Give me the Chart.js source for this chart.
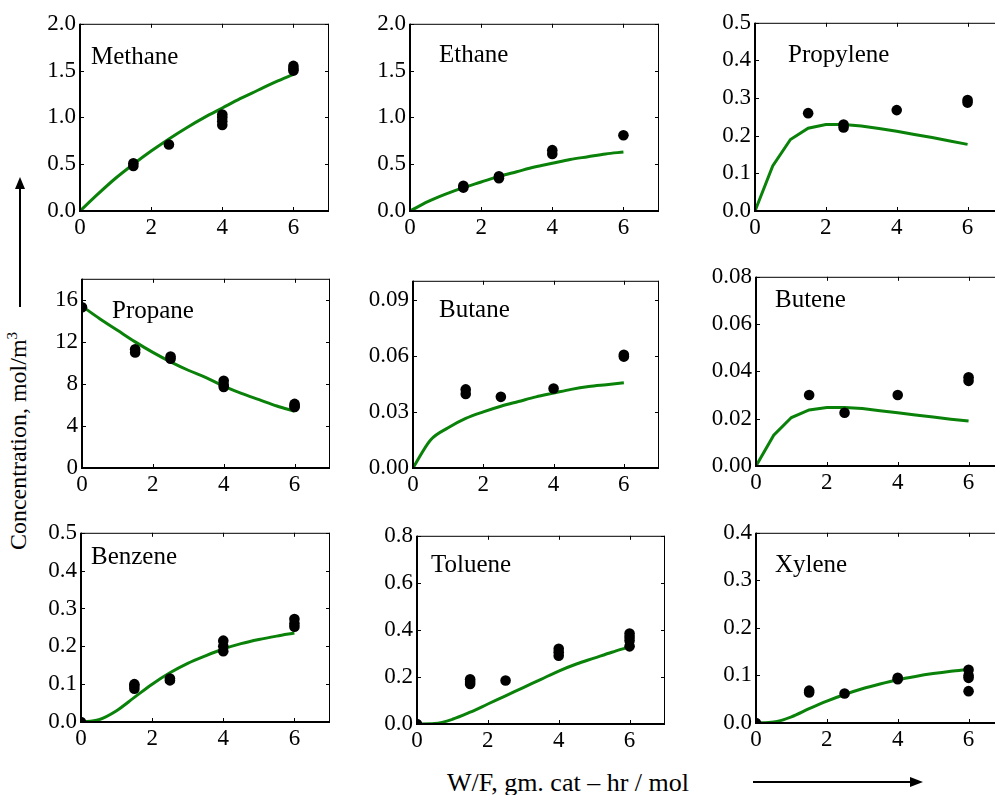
<!DOCTYPE html>
<html>
<head>
<meta charset="utf-8">
<script src="https://cdn.jsdelivr.net/npm/chart.js@4.4.0/dist/chart.umd.min.js"></script>
<style>
  html, body { margin: 0; padding: 0; background: #fff; overflow: hidden; }
  body { width: 995px; height: 795px; position: relative; font-family: "Liberation Serif", serif; }
  canvas { position: absolute; }
  .ylab { position: absolute; left: 18px; top: 441px; font-size: 24px; white-space: nowrap;
          transform: translate(-50%, -50%) rotate(-90deg); }
  .xlab { position: absolute; left: 447px; top: 770px; font-size: 26px; line-height: 1; white-space: nowrap; }
  svg { position: absolute; left: 0; top: 0; }
</style>
</head>
<body>
<div class="ylab">Concentration, mol/m<sup style="font-size:15px">3</sup></div>
<div class="xlab">W/F, gm. cat – hr / mol</div>
<svg width="995" height="795">
  <line x1="20" y1="307" x2="20" y2="186" stroke="#000" stroke-width="2"/>
  <polygon points="20,177 15,189 25,189" fill="#000"/>
  <line x1="753" y1="782" x2="912" y2="782" stroke="#000" stroke-width="2"/>
  <polygon points="923,782 910,777 910,787" fill="#000"/>
</svg>

<script>
// model curve x values (W/F)
const wf = [0, 0.5, 1, 1.5, 2, 2.5, 3, 3.5, 4, 4.5, 5, 5.5, 6]

// model curves
const methaneModel = [0, 0.18, 0.35, 0.5, 0.64, 0.77, 0.89, 1.0, 1.1, 1.2, 1.29, 1.38, 1.46]
const ethaneModel = [0, 0.1, 0.18, 0.25, 0.31, 0.37, 0.42, 0.47, 0.51, 0.55, 0.58, 0.61, 0.63]
const propyleneModel = [0, 0.12, 0.19, 0.22, 0.23, 0.23, 0.226, 0.219, 0.212, 0.203, 0.195, 0.186, 0.177]
const propaneModel = [15.4, 14.2, 13.1, 12.0, 11.0, 10.1, 9.3, 8.6, 7.8, 7.1, 6.5, 5.9, 5.4]
const butaneModel = [0, 0.015, 0.0215, 0.0265, 0.030, 0.033, 0.0355, 0.038, 0.040, 0.042, 0.0435, 0.0445, 0.0455]
const buteneModel = [0, 0.013, 0.0205, 0.0237, 0.0247, 0.0247, 0.0243, 0.0234, 0.0225, 0.0216, 0.0207, 0.0198, 0.019]
const benzeneModel = [0, 0.006, 0.03, 0.065, 0.1, 0.13, 0.155, 0.175, 0.193, 0.207, 0.218, 0.227, 0.235]
const tolueneModel = [0, 0.002, 0.02, 0.05, 0.085, 0.12, 0.155, 0.19, 0.225, 0.255, 0.28, 0.305, 0.328]
const xyleneModel = [0, 0.002, 0.013, 0.03, 0.046, 0.06, 0.072, 0.082, 0.091, 0.098, 0.104, 0.109, 0.113]

// experimental points
const methaneExpX = [1.5, 1.5, 2.5, 4, 4, 4, 4, 6, 6, 6]
const methaneExpY = [0.48, 0.51, 0.71, 1.03, 1.0, 0.96, 0.92, 1.55, 1.52, 1.5]
const ethaneExpX = [1.5, 1.5, 2.5, 2.5, 4, 4, 6]
const ethaneExpY = [0.27, 0.25, 0.37, 0.35, 0.65, 0.61, 0.81]
const propyleneExpX = [1.5, 2.5, 2.5, 4, 6, 6]
const propyleneExpY = [0.26, 0.23, 0.222, 0.268, 0.295, 0.288]
const propaneExpX = [0, 1.5, 1.5, 2.5, 2.5, 4, 4, 4, 6, 6, 6]
const propaneExpY = [15.3, 11.3, 11.0, 10.6, 10.4, 8.3, 7.9, 7.7, 6.1, 5.9, 5.8]
const butaneExpX = [1.5, 1.5, 2.5, 4, 6, 6]
const butaneExpY = [0.042, 0.0395, 0.038, 0.0425, 0.0605, 0.0595]
const buteneExpX = [1.5, 2.5, 4, 6, 6]
const buteneExpY = [0.030, 0.0225, 0.030, 0.0375, 0.036]
const benzeneExpX = [0, 1.5, 1.5, 1.5, 2.5, 2.5, 4, 4, 4, 6, 6, 6]
const benzeneExpY = [0, 0.1, 0.095, 0.088, 0.115, 0.11, 0.215, 0.2, 0.187, 0.272, 0.26, 0.252]
const tolueneExpX = [0, 1.5, 1.5, 1.5, 2.5, 4, 4, 4, 6, 6, 6, 6]
const tolueneExpY = [0, 0.19, 0.18, 0.17, 0.185, 0.32, 0.305, 0.29, 0.385, 0.37, 0.355, 0.33]
const xyleneExpX = [0, 1.5, 1.5, 2.5, 4, 4, 6, 6, 6, 6]
const xyleneExpY = [0, 0.068, 0.064, 0.062, 0.095, 0.092, 0.112, 0.1, 0.095, 0.067]

// y axes: max, step, decimals
const yMax = [2, 2, 0.5, 18, 0.1, 0.08, 0.5, 0.8, 0.4]
const yStep = [0.5, 0.5, 0.1, 4, 0.03, 0.02, 0.1, 0.2, 0.1]
const yDec = [1, 1, 1, 0, 2, 2, 1, 1, 1]

const names = ["Methane", "Ethane", "Propylene", "Propane", "Butane", "Butene", "Benzene", "Toluene", "Xylene"]
const models = [methaneModel, ethaneModel, propyleneModel, propaneModel, butaneModel, buteneModel, benzeneModel, tolueneModel, xyleneModel]
const expX = [methaneExpX, ethaneExpX, propyleneExpX, propaneExpX, butaneExpX, buteneExpX, benzeneExpX, tolueneExpX, xyleneExpX]
const expY = [methaneExpY, ethaneExpY, propyleneExpY, propaneExpY, butaneExpY, buteneExpY, benzeneExpY, tolueneExpY, xyleneExpY]

// plot boxes on the page [left, top, right, bottom] and label offsets
const boxes = [
  [80, 21, 329, 211], [410, 21, 659, 211], [755, 20, 1003, 211],
  [82, 276, 330, 468], [413, 278, 659, 468], [756, 274, 1004, 466],
  [81, 530, 330, 722], [417, 533, 665, 724], [756, 530, 1004, 723],
]
const labelPos = [[11, 40], [29, 38], [33, 39], [30, 39], [26, 36], [19, 30], [10, 31], [14, 36], [19, 39]]

const PAD_L = 70, PAD_T = 15, PAD_R = 15, PAD_B = 40

Chart.defaults.font.family = "'Liberation Serif', serif"
Chart.defaults.color = "#000"

// frame with inward ticks on all four sides + species name
const framePlugin = {
  id: "frame",
  afterDraw(chart, args, opts) {
    const { ctx, chartArea: a, scales } = chart
    const sx = scales.x, sy = scales.y
    ctx.save()
    ctx.strokeStyle = "#000"
    ctx.lineWidth = 1
    ctx.beginPath()
    ctx.moveTo(a.left, a.top + 0.5); ctx.lineTo(a.right, a.top + 0.5)
    ctx.moveTo(a.right - 0.5, a.top); ctx.lineTo(a.right - 0.5, a.bottom)
    sx.ticks.forEach((t) => {
      const px = Math.round(sx.getPixelForValue(t.value)) + 0.5
      ctx.moveTo(px, a.bottom); ctx.lineTo(px, a.bottom - 4)
      ctx.moveTo(px, a.top); ctx.lineTo(px, a.top + 4)
    })
    sy.ticks.forEach((t) => {
      const py = Math.round(sy.getPixelForValue(t.value)) + 0.5
      ctx.moveTo(a.left, py); ctx.lineTo(a.left + 4, py)
      ctx.moveTo(a.right, py); ctx.lineTo(a.right - 4, py)
    })
    ctx.stroke()
    ctx.lineWidth = 2
    ctx.beginPath()
    ctx.moveTo(a.left, a.top); ctx.lineTo(a.left, a.bottom); ctx.lineTo(a.right, a.bottom)
    ctx.stroke()
    ctx.font = "25px 'Liberation Serif'"
    ctx.fillStyle = "#000"
    ctx.textBaseline = "alphabetic"
    ctx.fillText(opts.title, a.left + opts.dx, a.top + opts.dy)
    ctx.restore()
  },
}

for (let i = 0; i < 9; i++) {
  const [l, t, r, b] = boxes[i]
  const cv = document.createElement("canvas")
  const w = r - l + PAD_L + PAD_R
  const h = b - t + PAD_T + PAD_B
  cv.width = w
  cv.height = h
  cv.style.left = l - PAD_L + "px"
  cv.style.top = t - PAD_T + "px"
  document.body.appendChild(cv)

  const pts = expX[i].map((x, k) => ({ x: x, y: expY[i][k] }))
  const line = wf.map((x, k) => ({ x: x, y: models[i][k] }))
  const sharp = names[i] === "Propylene" || names[i] === "Butene"

  new Chart(cv, {
    type: "scatter",
    data: {
      datasets: [
        {
          data: pts,
          pointRadius: 5.3,
          pointBackgroundColor: "#000",
          pointBorderWidth: 0,
        },
        {
          data: line,
          showLine: true,
          pointRadius: 0,
          borderColor: "#0a820a",
          borderWidth: 3,
          tension: sharp ? 0 : 0.4,
          cubicInterpolationMode: sharp ? "default" : "monotone",
        },
      ],
    },
    options: {
      responsive: false,
      animation: false,
      devicePixelRatio: 1,
      layout: { padding: { left: 0, top: PAD_T, right: PAD_R, bottom: 0 } },
      plugins: {
        legend: { display: false },
        tooltip: { enabled: false },
        frame: { title: names[i], dx: labelPos[i][0], dy: labelPos[i][1] },
      },
      scales: {
        x: {
          min: 0,
          max: 7,
          grid: { display: false, drawTicks: false },
          border: { display: false },
          ticks: { stepSize: 2, includeBounds: false, padding: 3, font: { size: 23 }, maxRotation: 0 },
          afterFit: (s) => { s.height = PAD_B },
        },
        y: {
          min: 0,
          max: yMax[i],
          grid: { display: false, drawTicks: false },
          border: { display: false },
          ticks: {
            stepSize: yStep[i],
            includeBounds: false,
            padding: 4,
            font: { size: 23 },
            callback: (v) => Number(v).toFixed(yDec[i]),
          },
          afterFit: (s) => { s.width = PAD_L },
        },
      },
    },
    plugins: [framePlugin],
  })
}
</script>
</body>
</html>
